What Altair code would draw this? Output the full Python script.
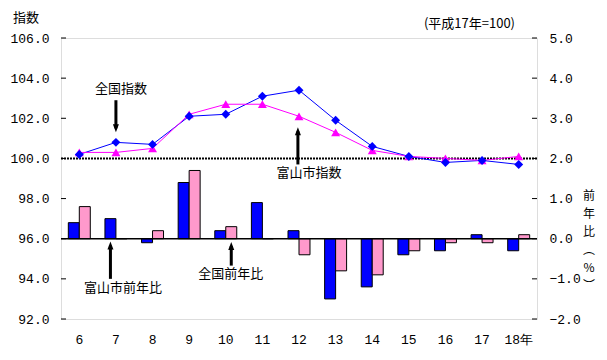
import altair as alt
import pandas as pd

years = ["6", "7", "8", "9", "10", "11", "12", "13", "14", "15", "16", "17", "18年"]
toyama_index = [100.2, 100.8, 100.7, 102.1, 102.2, 103.1, 103.4, 101.9, 100.6, 100.1, 99.8, 99.9, 99.7]
national_index = [100.3, 100.3, 100.5, 102.2, 102.7, 102.7, 102.1, 101.3, 100.4, 100.1, 100.0, 99.9, 100.1]
toyama_yoy = [0.4, 0.5, -0.1, 1.4, 0.2, 0.9, 0.2, -1.5, -1.2, -0.4, -0.3, 0.1, -0.3]
national_yoy = [0.8, 0.0, 0.2, 1.7, 0.3, 0.0, -0.4, -0.8, -0.9, -0.3, -0.1, -0.1, 0.1]

left_ticks = [92, 94, 96, 98, 100, 102, 104, 106]
right_ticks = [-2, -1, 0, 1, 2, 3, 4, 5]
right_title_chars = ["前", "年", "比", "︵", "%", "︶"]

W, H = 476, 281
JP = "Noto Sans CJK JP"
NUM = "Liberation Mono"

df = pd.DataFrame({
    "year": years,
    "toyama_index": toyama_index,
    "national_index": national_index,
    "toyama_yoy": toyama_yoy,
    "national_yoy": national_yoy,
})

x_scale = alt.Scale(paddingInner=0.4, paddingOuter=0.2)
x_axis = alt.Axis(title=None, labelAngle=0, ticks=False, domain=False, grid=False,
                  labelPadding=14, labelFont=NUM, labelFontSize=13, labelColor="black")


def X(band=0.5):
    return alt.X("year:N", sort=years, scale=x_scale, axis=x_axis, bandPosition=band)


left_scale = alt.Scale(domain=[92, 106], nice=False, zero=False)
left_axis = alt.Axis(orient="left", values=left_ticks, format=".1f", title=None, grid=False,
                     ticks=False, domain=False, labelPadding=12, labelFont=NUM,
                     labelFontSize=13, labelColor="black")
right_scale = alt.Scale(domain=[-2, 5], nice=False, zero=False)
right_axis = alt.Axis(orient="right", values=right_ticks, format=".1f", title=None, grid=False,
                      ticks=False, domain=False, labelPadding=12, labelFont=NUM,
                      labelFontSize=13, labelColor="black")


def LY(field):
    return alt.Y(field, type="quantitative", scale=left_scale, axis=left_axis)


def RY(field):
    return alt.Y(field, type="quantitative", scale=right_scale, axis=right_axis)


# ---------------- right-scale group (bars) ----------------
bars = alt.Chart(df).transform_fold(
    ["toyama_yoy", "national_yoy"], as_=["series", "yoy"]
).mark_bar(stroke="black", strokeWidth=1).encode(
    x=X(),
    xOffset=alt.XOffset("series:N", sort=["toyama_yoy", "national_yoy"],
                        scale=alt.Scale(paddingInner=0, paddingOuter=0)),
    y=RY("yoy"),
    color=alt.Color("series:N", scale=alt.Scale(domain=["toyama_yoy", "national_yoy"],
                                                range=["#0000FF", "#FF99CC"]), legend=None),
)

zero_df = pd.DataFrame({"yoy": [0]})
zero_rule = alt.Chart(zero_df).mark_rule(color="black", strokeWidth=1.5).encode(y=RY("yoy"))

rticks_df = pd.DataFrame({"yoy": right_ticks})
rticks = alt.Chart(rticks_df).mark_rule(color="black", strokeWidth=1).encode(
    y=RY("yoy"), x=alt.value(W - 5), x2=alt.value(W))

r_arrows_df = pd.DataFrame({
    "year": ["7", "10"],
    "y0": [-1.0, -0.67],
    "y1": [-0.17, -0.18],
})
up_path = "M-0.75,1L0.75,1L0,-1Z"
down_path = "M-0.75,-1L0.75,-1L0,1Z"
r_shaft_a = alt.Chart(r_arrows_df.iloc[[0]]).mark_rule(color="black", strokeWidth=3).encode(
    x=X(0.25), y=RY("y0"), y2="y1")
r_shaft_b = alt.Chart(r_arrows_df.iloc[[1]]).mark_rule(color="black", strokeWidth=3).encode(
    x=X(0.75), y=RY("y0"), y2="y1")
r_head_a = alt.Chart(r_arrows_df.iloc[[0]]).mark_point(
    shape=up_path, size=64, filled=True, color="black", opacity=1).encode(x=X(0.25), y=RY("y1"))
r_head_b = alt.Chart(r_arrows_df.iloc[[1]]).mark_point(
    shape=up_path, size=64, filled=True, color="black", opacity=1).encode(x=X(0.75), y=RY("y1"))

r_text_df = pd.DataFrame({"year": ["7"], "yoy": [-1.24], "label": ["富山市前年比"]})
r_text_df2 = pd.DataFrame({"year": ["10"], "yoy": [-0.89], "label": ["全国前年比"]})
r_text_a = alt.Chart(r_text_df).mark_text(font=JP, fontSize=13, dx=7, color="black").encode(
    x=X(), y=RY("yoy"), text="label:N")
r_text_b = alt.Chart(r_text_df2).mark_text(font=JP, fontSize=13, dx=5, color="black").encode(
    x=X(), y=RY("yoy"), text="label:N")

right_group = alt.layer(bars, zero_rule, rticks, r_shaft_a, r_shaft_b, r_head_a, r_head_b,
                        r_text_a, r_text_b)

# ---------------- left-scale group (indices) ----------------
hundred_df = pd.DataFrame({"v": [100]})
dotted = alt.Chart(hundred_df).mark_rule(color="black", strokeWidth=2, strokeDash=[2, 1]).encode(
    y=LY("v"))

toyama_line = alt.Chart(df).mark_line(color="#0000FF", strokeWidth=1).encode(
    x=X(), y=LY("toyama_index"))
toyama_pts = alt.Chart(df).mark_point(shape="diamond", size=80, filled=True, color="#0000FF",
                                      opacity=1).encode(x=X(), y=LY("toyama_index"))
national_line = alt.Chart(df).mark_line(color="#FF00FF", strokeWidth=1).encode(
    x=X(), y=LY("national_index"))
national_pts = alt.Chart(df).mark_point(shape="triangle-up", size=80, filled=True,
                                        color="#FF00FF", opacity=1).encode(
    x=X(), y=LY("national_index"))

lticks_df = pd.DataFrame({"v": left_ticks})
lticks = alt.Chart(lticks_df).mark_rule(color="black", strokeWidth=1).encode(
    y=LY("v"), x=alt.value(0), x2=alt.value(5))

l_arrow_a = pd.DataFrame({"year": ["7"], "v": [102.9], "v2": [101.5]})
l_arrow_b = pd.DataFrame({"year": ["12"], "v": [99.7], "v2": [101.35]})
l_shaft_a = alt.Chart(l_arrow_a).mark_rule(color="black", strokeWidth=3).encode(
    x=X(), y=LY("v"), y2="v2")
l_head_a = alt.Chart(l_arrow_a).mark_point(shape=down_path, size=64, filled=True,
                                           color="black", opacity=1).encode(x=X(), y=LY("v2"))
l_shaft_b = alt.Chart(l_arrow_b).mark_rule(color="black", strokeWidth=3).encode(
    x=X(0.45), y=LY("v"), y2="v2")
l_head_b = alt.Chart(l_arrow_b).mark_point(shape=up_path, size=64, filled=True,
                                           color="black", opacity=1).encode(x=X(0.45), y=LY("v2"))

l_text_a = alt.Chart(pd.DataFrame({"year": ["7"], "v": [103.44], "label": ["全国指数"]})).mark_text(
    font=JP, fontSize=13, dx=5, color="black").encode(x=X(), y=LY("v"), text="label:N")
l_text_b = alt.Chart(pd.DataFrame({"year": ["12"], "v": [99.25], "label": ["富山市指数"]})).mark_text(
    font=JP, fontSize=13, dx=10, color="black").encode(x=X(), y=LY("v"), text="label:N")

dummy = pd.DataFrame({"d": [0]})
title_left = alt.Chart(dummy).mark_text(text="指数", font=JP, fontSize=13, color="black").encode(
    x=alt.value(-35), y=alt.value(-20))
title_base = alt.Chart(dummy).mark_text(text="(平成17年=100)", font=JP, fontSize=13,
                                        align="right", color="black").encode(
    x=alt.value(454), y=alt.value(-14))

title_right_y = [158, 176, 194, 212, 230, 248]
title_right_layers = [
    alt.Chart(dummy).mark_text(text=ch, font=JP, fontSize=12, color="black").encode(
        x=alt.value(W + 52), y=alt.value(yy))
    for ch, yy in zip(right_title_chars, title_right_y)
]

left_group = alt.layer(dotted, lticks, toyama_line, national_line, national_pts, toyama_pts,
                       l_shaft_a, l_head_a, l_shaft_b, l_head_b, l_text_a, l_text_b,
                       title_left, title_base, *title_right_layers)

chart = alt.layer(right_group, left_group).resolve_scale(y="independent").properties(
    width=W, height=H,
    autosize=alt.AutoSizeParams(type="none"),
    padding={"left": 53, "top": 30, "right": 62, "bottom": 33},
).configure_view(stroke="black", strokeWidth=1.5).configure(background="white")

chart.save("out.html", embed_options={"renderer": "svg", "actions": False})
